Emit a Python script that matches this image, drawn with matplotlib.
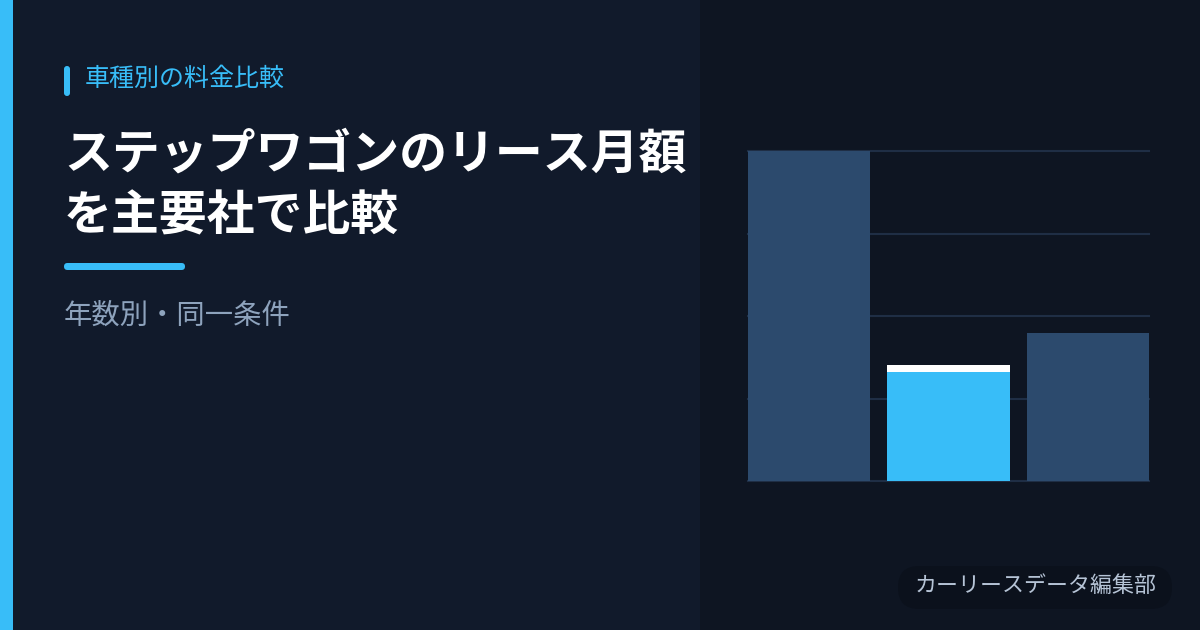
import matplotlib
matplotlib.use("Agg")
import matplotlib.pyplot as plt
from matplotlib.patches import Rectangle, FancyBboxPatch

plt.rcParams['font.family'] = ['Noto Sans CJK JP', 'DejaVu Sans']

# data (monthly lease fee, yen)
companies = ['A社', 'B社', 'C社']
monthly_fee = [80000, 28100, 35900]
highlight = 1
grid_ticks = [0, 20000, 40000, 60000, 80000]

kicker = '車種別の料金比較'
title = 'ステップワゴンのリース月額\nを主要社で比較'
subtitle = '年数別・同一条件'
footer = 'カーリースデータ編集部'

W, H = 1200, 630
fig = plt.figure(figsize=(12, 6.3), dpi=100)
fig.patch.set_facecolor('#111a2b')

# background layer in pixel coords (y down)
bg = fig.add_axes([0, 0, 1, 1], zorder=0)
bg.set_xlim(0, W)
bg.set_ylim(H, 0)
bg.axis('off')

def rbox(x, y, w, h, r, color, z=2):
    bg.add_patch(FancyBboxPatch((x, y), w, h,
                                boxstyle=f'round,pad=0,rounding_size={r}',
                                color=color, zorder=z, lw=0))

bg.add_patch(Rectangle((700, 0), 500, 630, color='#0e1522', zorder=1, lw=0))
bg.add_patch(Rectangle((0, 0), 13, 630, color='#38bdf8', zorder=1, lw=0))

rbox(64, 66, 6, 30, 3, '#38bdf8')
bg.text(85, 79, kicker, color='#38bdf8', fontsize=18, va='center', ha='left')

bg.text(64, 185, title, color='white', fontsize=34.5, fontweight='bold',
        va='center', ha='left', linespacing=1.33)

rbox(64, 263, 121, 7, 3.5, '#38bdf8')

bg.text(64, 316, subtitle, color='#8ea3bd', fontsize=20.4,
        va='center', ha='left')

rbox(898, 566, 274, 43, 21, '#0b111c')
bg.text(1036, 586, footer, color='#b6c4d6', fontsize=15.8,
        va='center', ha='center', zorder=3)

# chart
ax = fig.add_axes([748 / W, 1 - 481 / H, 401 / W, 330 / H], zorder=5)
ax.set_facecolor('none')
xs = range(len(companies))
colors = ['#38bdf8' if i == highlight else '#2c4a6d' for i in xs]
ax.bar(xs, monthly_fee, width=0.878, color=colors, zorder=2)
cap = grid_ticks[-1] * 7 / 330
ax.bar(highlight, cap, bottom=monthly_fee[highlight] - cap, width=0.878,
       color='white', zorder=3)
ax.set_xlim(-0.439, len(companies) - 1 + 0.439)
ax.set_ylim(0, grid_ticks[-1])
for t in grid_ticks:
    ax.axhline(t, color='#1f2e45', lw=1.5, zorder=1, clip_on=False)
ax.set_xticks([])
ax.set_yticks([])
for s in ax.spines.values():
    s.set_visible(False)

fig.savefig('out.png', dpi=100, facecolor=fig.get_facecolor())
